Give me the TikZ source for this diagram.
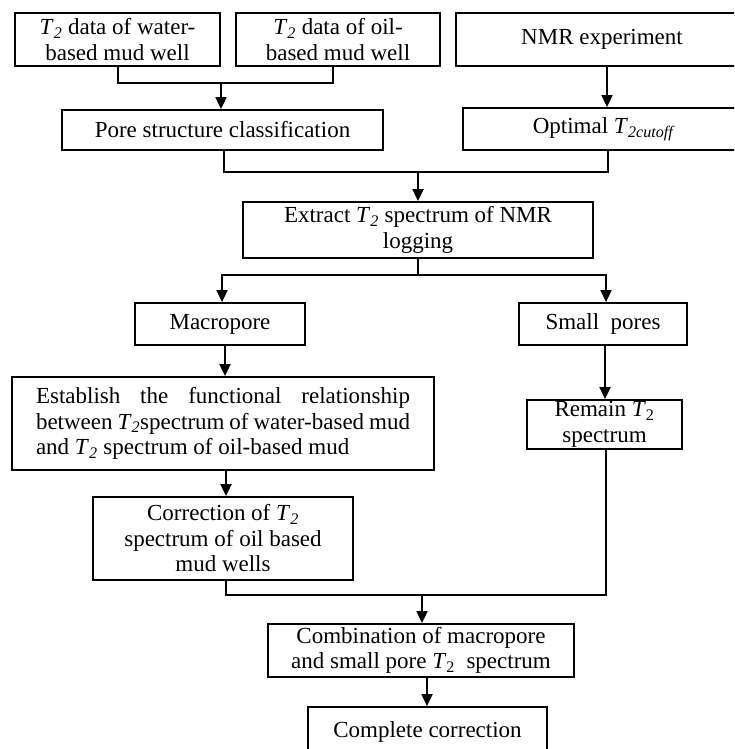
\documentclass[tikz,border=0pt]{standalone}
\usepackage{fontspec}
\setmainfont{Liberation Serif}
\usetikzlibrary{arrows.meta}
\newcommand{\Tt}{\textit{T}\textsubscript{\textit{2}}}
\begin{document}
\begin{tikzpicture}[x=1pt,y=-1pt,
  box/.style={draw, line width=1.8pt, inner sep=1pt, align=center,
    font=\fontsize{23}{25.5}\selectfont},
  link/.style={line width=1.8pt},
  arr/.style={line width=1.8pt, -{Triangle[length=12pt,width=11pt]}}]
\useasboundingbox (0,0) rectangle (734,749);
\clip (0,0) rectangle (734,749);
\fill[white] (0,0) rectangle (734,749);
% nodes
\node[box, minimum width=205pt, minimum height=53pt] (A) at (117.5,39.5) {\Tt\ data of water-\\based mud well};
\node[box, minimum width=204pt, minimum height=53pt] (B) at (338,39.5) {\Tt\ data of oil-\\based mud well};
\node[box, minimum width=292pt, minimum height=53pt] (C) at (602,39.5) {NMR experiment};
\node[box, minimum width=321pt, minimum height=40pt] (D) at (222.5,130) {Pore structure classification};
\node[box, minimum width=282pt, minimum height=42pt] (E) at (604,129) {Optimal \textit{T}\textsubscript{\textit{2cutoff}}};
\node[box, minimum width=350pt, minimum height=56pt] (F) at (418,230) {Extract \Tt\ spectrum of NMR\\logging};
\node[box, minimum width=170pt, minimum height=42pt] (G) at (220,324) {Macropore};
\node[box, minimum width=168pt, minimum height=42pt] (H) at (603,324) {Small~ pores};
\node[box, minimum width=422pt, minimum height=93pt, text width=374pt, align=justify] (I) at (223,423.5)
  {Establish the functional relationship\linebreak between \Tt spectrum of water-based mud\linebreak and \Tt\ spectrum of oil-based mud};
\node[box, minimum width=155pt, minimum height=49pt] (J) at (604.5,424.5) {Remain \textit{T}\textsubscript{2}\\spectrum};
\node[box, minimum width=260pt, minimum height=83pt] (K) at (223,538.5) {Correction of \Tt\\spectrum of oil based\\mud\ wells};
\node[box, minimum width=306pt, minimum height=53pt] (L) at (421,650.5) {Combination of macropore\\and\ small pore \textit{T}\textsubscript{2}\ \ spectrum};
\node[box, minimum width=239pt, minimum height=50pt] (M) at (427.5,732) {Complete correction};
% junction coordinates
\coordinate (j1) at (221,83);
\coordinate (j2) at (418,172);
\coordinate (j3) at (418,275);
\coordinate (j4) at (422,595);
% connectors
\draw[link] ([xshift=0.5pt]A.south) |- (j1) -| ([xshift=-5pt]B.south);
\draw[arr] (j1) -- (j1 |- D.north);
\draw[link] ([xshift=1.5pt]D.south) |- (j2) -| ([xshift=4pt]E.south);
\draw[arr] (j2) -- (F.north);
\draw[arr] ([xshift=5pt]C.south) -- ([xshift=5pt]C.south |- E.north);
\draw[link] (F.south) -- (j3);
\draw[arr] (j3) -| ([xshift=2pt]G.north);
\draw[arr] (j3) -| ([xshift=3pt]H.north);
\draw[arr] ([xshift=5pt]G.south) -- ([xshift=5pt]G.south |- I.north);
\draw[arr] ([xshift=3pt]I.south) -- ([xshift=3pt]I.south |- K.north);
\draw[arr] ([xshift=2pt]H.south) -- ([xshift=2pt]H.south |- J.north);
\draw[link] ([xshift=3pt]K.south) |- (j4) -| ([xshift=1.5pt]J.south);
\draw[arr] (j4) -- (j4 |- L.north);
\draw[arr] ([xshift=-0.5pt]M.north |- L.south) -- ([xshift=-0.5pt]M.north);
\end{tikzpicture}
\end{document}
